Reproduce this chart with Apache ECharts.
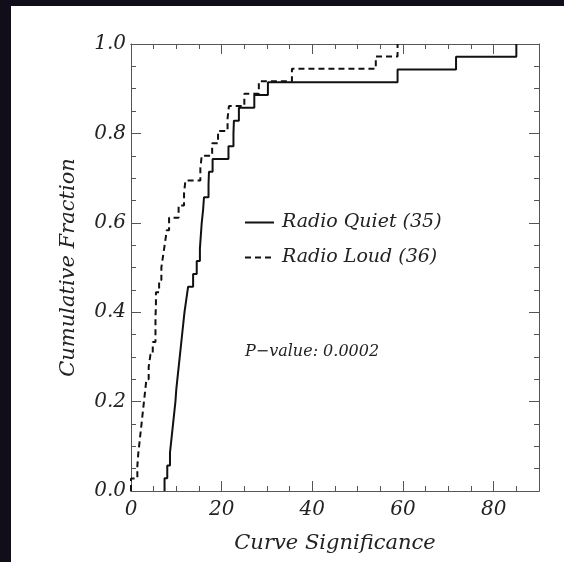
<!DOCTYPE html>
<html>
<head>
<meta charset="utf-8">
<script src="https://cdn.jsdelivr.net/npm/echarts@6/dist/echarts.min.js"></script>
<style>
  html, body { margin: 0; padding: 0; width: 564px; height: 562px; overflow: hidden; background: #110e19; }
  #paper { position: absolute; left: 11px; top: 6px; width: 553px; height: 556px; background: #ffffff; }
  #chart { position: absolute; left: 0; top: 0; width: 564px; height: 562px; }
</style>
</head>
<body>
<div id="paper"></div>
<div id="chart"></div>
<script>
// Sorted sample values (curve significance) for each group
var quietName = 'Radio Quiet (35)';
var loudName = 'Radio Loud (36)';
var quietValues = [7.4, 8.0, 8.6, 8.9, 9.2, 9.5, 9.8, 10.0, 10.3, 10.6, 10.9, 11.2, 11.5, 11.8, 12.2, 12.6,
  13.7, 14.5, 15.2, 15.4, 15.6, 15.9, 16.1, 17.1, 17.2, 18.0, 21.5, 22.6, 22.7, 23.8, 27.2, 30.2, 58.8, 71.7, 85.0];
var loudValues = [0.0, 1.4, 1.6, 1.9, 2.2, 2.5, 2.8, 3.1, 3.4, 3.9, 4.3, 4.8, 5.4, 5.4, 5.5, 5.5,
  6.2, 6.7, 7.1, 7.5, 7.9, 8.4, 10.5, 11.7, 12.0, 15.3, 15.6, 17.9, 19.2, 21.3, 21.6, 25.0, 28.2, 35.5, 54.0, 58.8];
var xTitle = 'Curve Significance';
var yTitle = 'Cumulative Fraction';
var pValueText = 'P\u2212value: 0.0002';

function ecdf(vals) {
  var n = vals.length;
  var out = [[vals[0], 0]];
  for (var i = 0; i < n; i++) out.push([vals[i], (i + 1) / n]);
  return out;
}

var FONT = 'DejaVu Serif';
var axisCol = '#555';
var labelStyle = { fontFamily: FONT, fontStyle: 'italic', fontSize: 20, color: '#222' };
var nameStyle = { fontFamily: FONT, fontStyle: 'italic', fontSize: 21, color: '#222' };

function xAx(pos, interval, len, labels) {
  return {
    type: 'value', position: pos, min: 0, max: 90, interval: interval,
    axisLine: { show: true, onZero: false, lineStyle: { color: axisCol, width: 1 } },
    axisTick: { show: true, inside: true, length: len, lineStyle: { color: axisCol } },
    axisLabel: labels ? Object.assign({ show: true, margin: 9, showMaxLabel: false,
      formatter: function (v) { return v % 20 === 0 ? String(v) : ''; } }, labelStyle) : { show: false },
    splitLine: { show: false },
    name: labels ? xTitle : '', nameLocation: 'middle', nameGap: 42,
    nameTextStyle: nameStyle
  };
}
function yAx(pos, labels) {
  return {
    type: 'value', position: pos, min: 0, max: 1, interval: 0.2,
    axisLine: { show: true, onZero: false, lineStyle: { color: axisCol, width: 1 } },
    axisTick: { show: true, inside: true, length: 10, lineStyle: { color: axisCol } },
    minorTick: { show: true, splitNumber: 4, length: 5, lineStyle: { color: axisCol } },
    axisLabel: labels ? Object.assign({ show: true, margin: 5, formatter: function (v) { return v.toFixed(1); } }, labelStyle) : { show: false },
    splitLine: { show: false }, minorSplitLine: { show: false },
    name: labels ? yTitle : '', nameLocation: 'middle', nameGap: 52,
    nameTextStyle: nameStyle
  };
}

var chart = echarts.init(document.getElementById('chart'), null, { renderer: 'canvas' });
chart.setOption({
  backgroundColor: 'transparent',
  animation: false,
  grid: { left: 131, right: 25, top: 44, bottom: 71, containLabel: false, outerBoundsMode: 'none' },
  xAxis: [xAx('bottom', 20, 10, true), xAx('bottom', 5, 5, false), xAx('top', 20, 10, false), xAx('top', 5, 5, false)],
  yAxis: [yAx('left', true), yAx('right', false)],
  legend: {
    orient: 'vertical', left: 244, top: 213, itemWidth: 29, itemHeight: 14, itemGap: 16,
    padding: 0,
    data: [quietName, loudName],
    itemStyle: { opacity: 0, borderWidth: 0 },
    textStyle: { fontFamily: FONT, fontStyle: 'italic', fontSize: 19, color: '#222', padding: [0, 0, 0, 3] }
  },
  graphic: [{
    type: 'text', left: 245, top: 344,
    style: { text: pValueText, font: 'italic 16px "DejaVu Serif"', fill: '#222' }
  }],
  series: [
    { name: quietName, type: 'line', step: 'end', symbol: 'none', xAxisIndex: 0, yAxisIndex: 0,
      lineStyle: { color: '#111', width: 2, type: 'solid' }, itemStyle: { color: '#111' },
      data: ecdf(quietValues) },
    { name: loudName, type: 'line', step: 'end', symbol: 'none', xAxisIndex: 0, yAxisIndex: 0,
      lineStyle: { color: '#111', width: 2, type: [6, 4] }, itemStyle: { color: '#111' },
      data: ecdf(loudValues) }
  ]
});
</script>
</body>
</html>
